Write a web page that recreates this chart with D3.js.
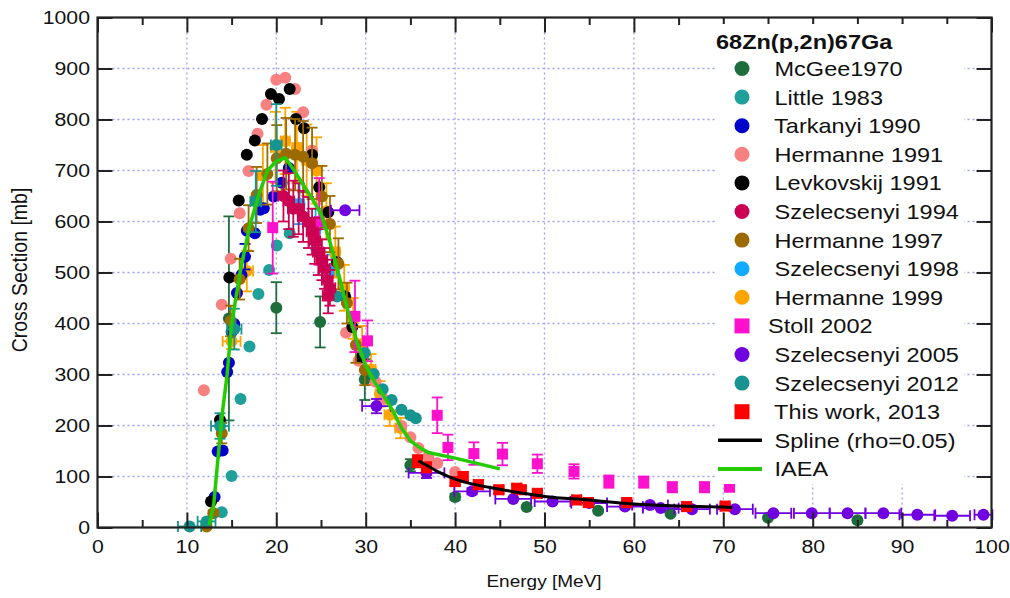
<!DOCTYPE html>
<html><head><meta charset="utf-8">
<script src="https://cdn.jsdelivr.net/npm/d3@7"></script>
<style>
body{margin:0;background:#fff;}
svg{font-family:"Liberation Sans",Arial,Helvetica,sans-serif;}
.lg{white-space:pre;}
</style></head><body>
<svg id="c" width="1010" height="598"></svg>
<script>
// ---- data: [energy MeV, cross section mb, dSigma, dE] ----
const xTicks = [0,10,20,30,40,50,60,70,80,90,100];
const xMinor = [5,15,25,35,45,55,65,75,85,95];
const yTicks = [0,100,200,300,400,500,600,700,800,900,1000];

const mcgee1970 = [[14.7,410,200],[20,431,50],[24.9,403,50],[29.9,290,40],[35,122,12],[40,60,6],[48,40,0],[56,33,0],[64.1,27,0],[75,19,0],[85,14,0]];
const little1983 = [[13.9,30],[15,101],[16,252],[17,355],[18,458],[19.2,505],[20.05,553],[21.5,577]];
const tarkanyi1990 = [[13.1,60],[13.45,149],[14.0,151],[14.5,305],[14.7,323],[15,384],[15.3,399],[15.6,460],[16.1,495],[16.5,531,25],[16.7,582],[17.6,577],[18.2,623],[18.6,626],[19.7,649],[20.6,676],[21.4,705]];
const hermanne1991 = [[11.9,269],[13.9,437],[14.9,527],[15.9,616],[16.9,699],[17.9,772],[18.9,829],[20,878],[21,882],[22.1,860],[23,814],[24,739],[27.8,382],[29.2,327],[31.1,286],[32,252],[34,199],[35,177],[35.9,156],[37,139],[38,126],[40,109]];
const levkovskij1991 = [[12.7,51],[13.7,211],[14.75,490],[15.8,641],[16.7,731],[17.6,759],[18.4,801],[19.4,850],[20.3,840],[21.5,860],[22.2,801],[23.1,783],[24,731],[24.8,667],[25.8,618],[26.8,520],[27.7,453],[28.5,393],[29.5,334]];
const szelecsenyi1994 = [[20.8,650,50,0.6],[21.4,640,55,0.6],[21.9,625,55,0.6],[22.5,625,50,0.6],[23.0,610,50,0.6],[23.6,598,50,0.6],[24.0,580,45,0.6],[24.3,562,45,0.6],[24.7,540,45,0.6],[25.1,525,40,0.6],[25.4,508,40,0.6],[25.7,485,40,0.6],[26.0,470,35,0.6],[25.8,455,35,0.6]];
const hermanne1997 = [[12.2,2,4],[12.95,28,6],[13.9,185,20],[14.9,405,30],[15.9,487,40],[16.9,587,45],[17.8,652,55],[19,693,60],[20.05,724,65],[21.1,733,70],[22.1,731,70],[23,727,70],[24,714,70],[25.1,649,60],[26,595,55],[26.95,517,50],[27.9,440,40],[28.9,358,35],[29.9,309,30]];
const szelecsenyi1998 = [[22.6,635,40,0.5],[24.4,585,40,0.5],[26.2,500,35,0.5]];
const hermanne1999 = [[15,365,15,1],[16.7,503,40,0.7],[18.5,690,60,0.5],[19.9,745,70,0.5],[21,758,65,0.5],[22.3,745,70,0.5],[23.4,720,70,0.5],[24.5,700,65,0.5],[25.6,620,55,0.5],[26.6,540,50,0.5],[27.6,470,45,0.5],[28.6,410,40,0.5],[29.6,360,35,0.5],[30.6,310,30,0.5],[31.6,262,25,0.5],[32.7,221,22,0.6],[33.9,195,20,0.6]];
const stoll2002 = [[19.6,588,90],[24.8,600,85],[28.8,414,70],[30.2,366,40],[38,220,35],[39.2,157,25],[42.1,145,22],[45.3,144,22],[49.2,125,18],[53.3,110,14],[57.2,90,12],[61.1,89,11],[64.3,79,10],[67.9,79,10],[70.7,79,6]];
const szelecsenyi2005 = [[27.7,622,0,1.6],[31.2,238,14,1.6],[36.8,107,10,2],[41.9,71,6,2],[46.5,56,0,2],[50.9,51,0,2],[55,48,0,2],[59,41,0,2],[61.8,44,0,2],[63,38,0,2],[66.5,36,0,2],[71.3,36,0,2],[75.6,28,0,2],[79.9,28,0,2],[83.9,28,0,2],[87.9,28,0,2],[91.7,25,0,2],[95.6,23,0,2],[99.1,25,0,1]];
const szelecsenyi2012 = [[10.3,2,0,1.3],[12.2,12,0,1.0],[13.7,199,25,1.0],[15.3,389,40,0.8],[17.7,639,60,0.6],[20.0,750,80,0.6],[26.8,453],[29.9,342],[30.9,301],[31.9,271],[32.9,250],[34,231],[35,220],[35.6,214]];
const thisWork2013 = [[35.8,130,12,0.5],[36.8,118,10,0.5],[40,90,8,0.5],[40.9,100,8,0.5],[42.6,84,8,0.5],[44.9,74,7,0.5],[46.9,77,7,0.5],[47.4,74,7,0.5],[49.2,67,6,0.5],[53.6,54,5,0.5],[54.9,49,5,0.5],[59.2,49,5,0.5],[65.9,41,4,0.5],[70.2,42,4,0.5]];
const splineE = [35.9,37,38,40,42,45,48,50,55,60,65,70,71];
const splineXS = [131,120,110,95,85,75,66,61,54,46,42,40,39];
const iaeaE = [12.5,13,13.5,14,14.5,15,16,17,18,19,20,21,22,23,24,25,26,27,28,29,30,31,32,33,34,35,36,37,40,45];
const iaeaXS = [5,45,140,230,300,400,505,590,650,700,718,725,700,672,645,615,560,495,425,365,318,285,258,230,195,170,157,147,136,115];

// legend order; z = drawing layer
const series = [
  {label:" McGee1970", color:"#1e6e3c", shape:"circle", pts:mcgee1970, z:2},
  {label:" Little 1983", color:"#1fa09a", shape:"circle", pts:little1983, z:3},
  {label:" Tarkanyi 1990", color:"#0000cd", shape:"circle", pts:tarkanyi1990, z:4},
  {label:" Hermanne 1991", color:"#f88080", shape:"circle", pts:hermanne1991, z:5},
  {label:" Levkovskij 1991", color:"#000000", shape:"circle", pts:levkovskij1991, z:6},
  {label:" Szelecsenyi 1994", color:"#cc0052", shape:"circle", pts:szelecsenyi1994, z:12},
  {label:" Hermanne 1997", color:"#9c6a00", shape:"circle", pts:hermanne1997, z:7},
  {label:" Szelecsenyi 1998", color:"#10aaff", shape:"circle", pts:szelecsenyi1998, z:0},
  {label:" Hermanne 1999", color:"#ffa500", shape:"circle", pts:hermanne1999, z:1},
  {label:"Stoll 2002", color:"#ff10cc", shape:"square", pts:stoll2002, z:9},
  {label:" Szelecsenyi 2005", color:"#7000e0", shape:"circle", pts:szelecsenyi2005, z:10},
  {label:" Szelecsenyi 2012", color:"#17948f", shape:"circle", pts:szelecsenyi2012, z:11},
  {label:" This work, 2013", color:"#ff0000", shape:"square", pts:thisWork2013, z:13}
];
const lines = [
  {label:" Spline (rho=0.05)", color:"#000000", width:3, e:splineE, v:splineXS, curve:d3.curveMonotoneX},
  {label:" IAEA", color:"#22cc00", width:3.5, e:iaeaE, v:iaeaXS, curve:d3.curveLinear}
];

// ---- layout ----
const svg = d3.select("#c");
const L=97.5, R=991.5, T=17.5, B=527.5;
const x = d3.scaleLinear().domain([0,100]).range([L,R]);
const y = d3.scaleLinear().domain([0,1000]).range([B,T]);
const SX = 1.12;

// grid
const grid = svg.append("g").attr("stroke","#a0a0f8").attr("stroke-width",1.3).attr("stroke-dasharray","2,3");
grid.selectAll("line.v").data(xTicks.slice(1,-1)).join("line").attr("class","v")
  .attr("x1",d=>x(d)).attr("x2",d=>x(d)).attr("y1",T).attr("y2",B);
grid.selectAll("line.h").data(yTicks.slice(1,-1)).join("line").attr("class","h")
  .attr("y1",d=>y(d)).attr("y2",d=>y(d)).attr("x1",L).attr("x2",R);

// data
const plot = svg.append("g");
const cap = 5.5;
series.slice().sort((a,b)=>a.z-b.z).forEach(s=>{
  const g = plot.append("g").attr("stroke",s.color).attr("fill",s.color).attr("stroke-width",1.8);
  s.pts.forEach(p=>{
    const [e,v,dv,de] = p;
    const cx=x(e), cy=y(v);
    if(dv){
      const y1=y(v-dv), y2=y(v+dv);
      g.append("line").attr("x1",cx).attr("x2",cx).attr("y1",y1).attr("y2",y2);
      g.append("line").attr("x1",cx-cap).attr("x2",cx+cap).attr("y1",y1).attr("y2",y1);
      g.append("line").attr("x1",cx-cap).attr("x2",cx+cap).attr("y1",y2).attr("y2",y2);
    }
    if(de){
      const x1=x(e-de), x2=x(e+de);
      g.append("line").attr("x1",x1).attr("x2",x2).attr("y1",cy).attr("y2",cy);
      g.append("line").attr("x1",x1).attr("x2",x1).attr("y1",cy-cap).attr("y2",cy+cap);
      g.append("line").attr("x1",x2).attr("x2",x2).attr("y1",cy-cap).attr("y2",cy+cap);
    }
  });
  s.pts.forEach(p=>{
    const cx=x(p[0]), cy=y(p[1]);
    if(s.shape==="circle") g.append("circle").attr("cx",cx).attr("cy",cy).attr("r",6).attr("stroke","none");
    else g.append("rect").attr("x",cx-5.5).attr("y",cy-5.5).attr("width",11).attr("height",11).attr("stroke","none");
  });
});
lines.forEach(l=>{
  const pts = l.e.map((e,i)=>[e,l.v[i]]);
  plot.append("path").datum(pts).attr("fill","none").attr("stroke",l.color).attr("stroke-width",l.width)
    .attr("stroke-linejoin","round")
    .attr("d", d3.line().x(d=>x(d[0])).y(d=>y(d[1])).curve(l.curve));
});

// axes
function styleAxis(g){
  g.select(".domain").remove();
  g.selectAll(".tick line").attr("stroke","#222").attr("stroke-width",2);
}
const fs = 19;
svg.append("g").attr("transform",`translate(0,${B})`)
  .call(d3.axisBottom(x).tickValues(xTicks).tickSizeInner(-15).tickSizeOuter(0).tickPadding(12).tickFormat(d3.format("d")))
  .call(styleAxis)
  .call(g=>g.selectAll("text").attr("font-size",fs).attr("fill","#111").attr("font-family","Liberation Sans, Arial, sans-serif").attr("transform",`scale(${SX},1)`));
svg.append("g").attr("transform",`translate(0,${B})`)
  .call(d3.axisBottom(x).tickValues(xMinor).tickSizeInner(-7.5).tickSizeOuter(0).tickFormat(""))
  .call(styleAxis);
svg.append("g").attr("transform",`translate(0,${T})`)
  .call(d3.axisTop(x).tickValues(xTicks).tickSizeInner(-15).tickSizeOuter(0).tickFormat(""))
  .call(styleAxis);
svg.append("g").attr("transform",`translate(0,${T})`)
  .call(d3.axisTop(x).tickValues(xMinor).tickSizeInner(-7.5).tickSizeOuter(0).tickFormat(""))
  .call(styleAxis);
svg.append("g").attr("transform",`translate(${L},0)`)
  .call(d3.axisLeft(y).tickValues(yTicks).tickSizeInner(-15).tickSizeOuter(0).tickPadding(7.5).tickFormat(d3.format("d")))
  .call(styleAxis)
  .call(g=>g.selectAll("text").attr("font-size",fs).attr("fill","#111").attr("font-family","Liberation Sans, Arial, sans-serif").attr("transform",`scale(${SX},1)`).attr("x",-7.5/SX));
svg.append("g").attr("transform",`translate(${R},0)`)
  .call(d3.axisRight(y).tickValues(yTicks).tickSizeInner(-15).tickSizeOuter(0).tickFormat(""))
  .call(styleAxis);

// frame
svg.append("rect").attr("x",L).attr("y",T).attr("width",R-L).attr("height",B-T)
  .attr("fill","none").attr("stroke","#222").attr("stroke-width",2.2);

// axis titles
svg.append("text").attr("transform",`translate(544,587) scale(${SX},1)`).attr("text-anchor","middle")
  .attr("font-size",17).attr("fill","#111").text("Energy [MeV]");
svg.append("text").attr("transform",`translate(27,270) rotate(-90) scale(1,${SX})`).attr("text-anchor","middle")
  .attr("font-size",19.5).attr("fill","#111").text("Cross Section [mb]");

// legend
const lg = svg.append("g");
lg.append("rect").attr("x",715).attr("y",24).attr("width",249).attr("height",460).attr("fill","#fff");
lg.append("text").attr("transform",`translate(716,49) scale(${SX},1)`).attr("font-size",21).attr("font-weight","bold")
  .attr("fill","#111").text("68Zn(p,2n)67Ga");
const rowY = i => 68.5 + i*28.6;
series.forEach((s,i)=>{
  const cy=rowY(i);
  if(s.shape==="circle") lg.append("circle").attr("cx",742).attr("cy",cy).attr("r",7.5).attr("fill",s.color);
  else lg.append("rect").attr("x",734.5).attr("y",cy-7.5).attr("width",15).attr("height",15).attr("fill",s.color);
  lg.append("text").attr("class","lg").attr("transform",`translate(768,${cy+7.5}) scale(${SX},1)`)
    .attr("font-size",21).attr("fill","#111").text(s.label);
});
lines.forEach((l,j)=>{
  const cy=rowY(series.length+j);
  lg.append("line").attr("x1",718).attr("x2",762).attr("y1",cy).attr("y2",cy).attr("stroke",l.color).attr("stroke-width",l.width+0.5);
  lg.append("text").attr("class","lg").attr("transform",`translate(768,${cy+7.5}) scale(${SX},1)`)
    .attr("font-size",21).attr("fill","#111").text(l.label);
});
</script>
</body></html>
